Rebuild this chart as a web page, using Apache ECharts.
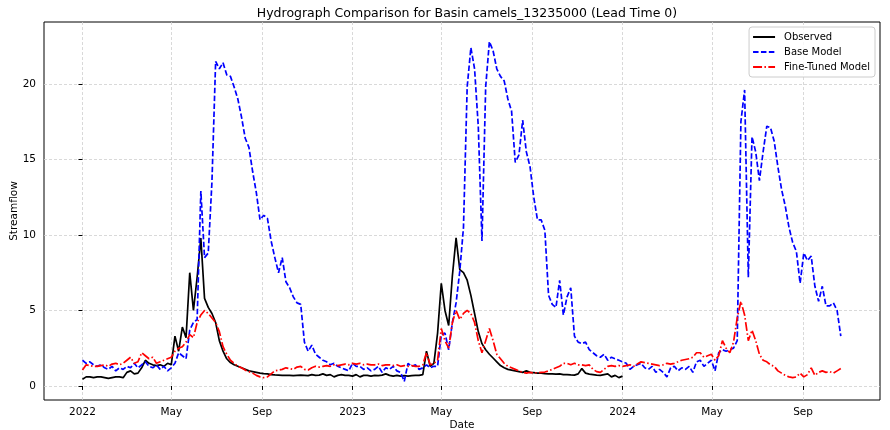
<!DOCTYPE html>
<html>
<head>
<meta charset="utf-8">
<script src="https://cdn.jsdelivr.net/npm/echarts@6/dist/echarts.min.js"></script>
<style>
  html, body { margin: 0; padding: 0; background: #fff; }
  #chart { width: 890px; height: 430px; }
</style>
</head>
<body>
<div id="chart"></div>
<script>
// samples every 5 days starting 2022-01-01
const startDate = Date.UTC(2022, 0, 1);
const stepDays = 5;
const DAY = 86400000;

const observed = [
  0.45, 0.6, 0.6, 0.55, 0.6, 0.6, 0.55, 0.5, 0.55, 0.6,
  0.6, 0.55, 0.9, 1.0, 0.8, 0.85, 1.2, 1.7, 1.5, 1.4,
  1.35, 1.4, 1.3, 1.5, 1.4, 3.3, 2.3, 3.9, 3.2, 7.5,
  5.0, 7.2, 9.8, 5.8, 5.2, 4.8, 4.2, 3.0, 2.3, 1.8,
  1.55, 1.4, 1.3, 1.2, 1.1, 1.0, 0.95, 0.9, 0.85, 0.82,
  0.8, 0.75, 0.73, 0.72, 0.7, 0.7, 0.7, 0.68, 0.7, 0.72,
  0.7, 0.68, 0.75, 0.7, 0.72, 0.8, 0.7, 0.75, 0.6, 0.7,
  0.75, 0.7, 0.7, 0.65, 0.75, 0.6, 0.7, 0.7, 0.65, 0.7,
  0.68, 0.72, 0.8, 0.7, 0.65, 0.7, 0.65, 0.68, 0.65, 0.68,
  0.7, 0.7, 0.75, 2.3, 1.3, 1.5, 3.5, 6.8, 5.0, 4.0,
  7.3, 9.8, 7.7, 7.5, 7.0, 6.0, 4.8, 3.6, 2.8, 2.4,
  2.1, 1.85, 1.6, 1.35, 1.2, 1.1, 1.05, 1.0, 0.95, 0.9,
  1.0, 0.9, 0.88, 0.85, 0.85, 0.82, 0.8, 0.8, 0.78, 0.8,
  0.75, 0.75, 0.73, 0.72, 0.8, 1.15, 0.85, 0.78, 0.75, 0.72,
  0.7, 0.75, 0.8, 0.6, 0.7, 0.55, 0.65
];

const baseModel = [
  1.7, 1.5, 1.6, 1.4, 1.3, 1.4, 1.2, 1.1, 1.3, 1.0,
  1.2, 1.1, 1.3, 1.2, 1.5, 1.2, 1.4, 1.6, 1.3, 1.2,
  1.4, 1.1, 1.3, 1.0, 1.2, 1.5, 2.2, 2.0, 1.8, 3.7,
  4.2, 4.4, 12.9, 8.5, 8.8, 13.5, 21.5, 21.0, 21.4, 20.6,
  20.5, 19.8, 19.0, 17.8, 16.4, 15.8, 14.2, 12.8, 11.0, 11.3,
  11.1, 9.6, 8.5, 7.5, 8.5, 6.9, 6.5, 5.9, 5.5, 5.4,
  2.9, 2.3, 2.7, 2.1, 1.9, 1.7, 1.6, 1.4, 1.5, 1.3,
  1.2, 1.1, 1.0, 1.5, 1.3, 1.3, 1.1, 1.2, 1.0, 1.1,
  1.3, 0.9, 1.2, 1.1, 1.3, 1.0, 0.9, 0.3, 1.5, 1.3,
  1.4, 1.1, 1.2, 1.4, 1.2, 1.3, 1.3, 3.4, 3.5, 2.4,
  4.2, 5.5, 7.6, 10.5, 19.8, 22.4, 21.0, 17.2, 9.6, 19.8,
  22.8, 22.2, 21.0, 20.5, 20.2, 19.0, 18.2, 14.8, 15.3, 17.6,
  15.5, 14.5, 12.5, 11.0, 11.0, 10.3, 6.0, 5.4, 5.2, 7.0,
  4.7, 5.9, 6.5, 3.3, 2.9, 2.8, 2.9, 2.4, 2.2, 2.0,
  1.9, 2.1, 1.7, 1.9, 1.8, 1.7, 1.6, 1.5, 1.1, 1.3,
  1.4, 1.5, 1.2, 1.1, 1.3, 0.9, 1.1, 0.9, 0.6, 1.2,
  1.3, 1.0, 1.2, 1.1, 1.3, 0.9, 1.6, 1.7, 1.3, 1.5,
  1.7, 1.0, 2.2, 2.4, 2.3, 2.4, 2.5, 3.0, 17.5, 19.6,
  7.2, 16.5, 15.5, 13.6, 15.5, 17.2, 17.1, 16.2, 14.5, 13.0,
  11.9, 10.5, 9.5, 8.9, 6.8, 8.8, 8.3, 8.6, 6.6, 5.6,
  6.6, 5.3, 5.3, 5.5, 5.0, 3.3
];

const fineTuned = [
  1.05, 1.4, 1.35, 1.3, 1.3, 1.35, 1.4, 1.3, 1.45, 1.5,
  1.4, 1.5, 1.7, 1.9, 1.5, 1.6, 2.2, 2.0, 1.8, 1.9,
  1.5, 1.6, 1.7, 1.8, 1.9, 2.3, 2.5, 2.6, 2.9, 3.4,
  3.2, 4.2, 4.7, 5.0, 4.8, 4.5, 4.2, 3.6, 2.6, 2.1,
  1.7, 1.5, 1.3, 1.2, 1.05, 0.95, 0.85, 0.7, 0.6, 0.55,
  0.6, 0.8, 1.0, 1.05, 1.1, 1.2, 1.15, 1.1, 1.25, 1.3,
  1.1, 1.05, 1.2, 1.3, 1.25, 1.3, 1.35, 1.3, 1.4, 1.35,
  1.4, 1.45, 1.4, 1.5, 1.45, 1.5, 1.4, 1.45, 1.4, 1.4,
  1.45, 1.35, 1.4, 1.4, 1.35, 1.4, 1.3, 1.35, 1.3, 1.35,
  1.3, 1.3, 1.4, 2.2, 1.4, 1.5, 1.7, 3.8, 3.0, 2.5,
  4.2, 5.0, 4.4, 4.8, 5.0, 4.8, 4.2, 3.0, 2.2, 3.0,
  3.8, 3.0, 2.1, 1.8, 1.5, 1.3, 1.2, 1.1, 1.0, 0.9,
  0.85, 0.9, 0.85, 0.88, 0.9, 0.92, 1.0, 1.1, 1.2, 1.3,
  1.5, 1.5, 1.4, 1.5, 1.4, 1.4, 1.35, 1.4, 1.1, 0.95,
  0.9, 1.1, 1.3, 1.35, 1.3, 1.35, 1.3, 1.35, 1.4, 1.3,
  1.45, 1.6, 1.55, 1.5, 1.45, 1.4, 1.35, 1.4, 1.5, 1.45,
  1.5, 1.6, 1.7, 1.75, 1.8, 1.9, 2.2, 2.2, 1.9, 2.0,
  2.1, 1.7, 2.0, 3.0, 2.5, 2.2, 2.9, 4.5, 5.6, 4.7,
  3.0, 3.7, 3.0, 2.1, 1.7, 1.6, 1.4, 1.3, 1.0, 0.85,
  0.7, 0.6, 0.55, 0.6, 0.85, 0.6, 0.75, 1.2, 0.7, 0.9,
  1.0, 0.9, 0.95, 0.85, 1.0, 1.15
];

const tickDates = [
  [2022, 0], [2022, 4], [2022, 8], [2023, 0], [2023, 4],
  [2023, 8], [2024, 0], [2024, 4], [2024, 8]
];
const monthNames = ['Jan', 'Feb', 'Mar', 'Apr', 'May', 'Jun', 'Jul', 'Aug', 'Sep', 'Oct', 'Nov', 'Dec'];
const yTicks = [0, 5, 10, 15, 20];

// x values are days since 2022-01-01
const toPairs = (vals) => vals.map((v, i) => [i * stepDays, v]);
const xTicks = tickDates.map(d => (Date.UTC(d[0], d[1], 1) - startDate) / DAY);

const font = 'DejaVu Sans';
const chart = echarts.init(document.getElementById('chart'), null, { renderer: 'canvas' });

const option = {
  animation: false,
  backgroundColor: '#fff',
  title: {
    text: 'Hydrograph Comparison for Basin camels_13235000 (Lead Time 0)',
    left: 462,
    textAlign: 'center',
    top: 2,
    textStyle: { fontFamily: font, fontSize: 12.5, fontWeight: 'normal', color: '#000' }
  },
  grid: {
    left: 44, right: 10, top: 22, bottom: 30,
    outerBoundsMode: 'none',
    containLabel: false,
    show: true, borderColor: '#000', borderWidth: 1
  },
  legend: {
    orient: 'vertical',
    right: 15,
    top: 27,
    padding: [4, 5, 4, 3],
    itemGap: 3,
    itemWidth: 22,
    itemHeight: 12,
    backgroundColor: 'rgba(255,255,255,0.8)',
    borderColor: '#ccc',
    borderWidth: 1,
    borderRadius: 3,
    itemStyle: { opacity: 0 },
    textStyle: { fontFamily: font, fontSize: 10, lineHeight: 12, color: '#000', padding: [0, 0, 0, 4] },
    data: ['Observed', 'Base Model', 'Fine-Tuned Model']
  },
  xAxis: {
    type: 'value',
    min: -52,
    max: 1078,
    name: 'Date',
    nameLocation: 'middle',
    nameGap: 20,
    nameMoveOverlap: false,
    nameTextStyle: { fontFamily: font, fontSize: 10.5, color: '#000' },
    axisLine: { show: false },
    axisTick: { show: true, length: 4, lineStyle: { color: '#000' }, customValues: xTicks },
    axisLabel: {
      customValues: xTicks,
      fontFamily: font, fontSize: 10.5, color: '#000', margin: 7,
      formatter: (v) => {
        const d = new Date(startDate + v * DAY);
        return d.getUTCMonth() === 0 ? String(d.getUTCFullYear()) : monthNames[d.getUTCMonth()];
      }
    },
    splitLine: { show: true, lineStyle: { color: '#cfcfcf', type: [3, 2], width: 0.8 } }
  },
  yAxis: {
    type: 'value',
    min: -0.93,
    max: 24.1,
    name: 'Streamflow',
    nameLocation: 'middle',
    nameGap: 24,
    nameMoveOverlap: false,
    nameTextStyle: { fontFamily: font, fontSize: 10.5, color: '#000' },
    axisLine: { show: false },
    axisTick: { show: true, length: 4, lineStyle: { color: '#000' }, customValues: yTicks },
    axisLabel: { customValues: yTicks, fontFamily: font, fontSize: 10.5, color: '#000', margin: 8 },
    splitLine: { show: true, lineStyle: { color: '#cfcfcf', type: [3, 2], width: 0.8 } }
  },
  series: [
    {
      name: 'Observed',
      type: 'line',
      data: toPairs(observed),
      symbol: 'none',
      lineStyle: { color: '#000', width: 1.7 },
      itemStyle: { color: '#000' },
      z: 3
    },
    {
      name: 'Base Model',
      type: 'line',
      data: toPairs(baseModel),
      symbol: 'none',
      lineStyle: { color: '#0000ff', width: 1.7, type: [5.5, 2.4] },
      itemStyle: { color: '#0000ff' },
      z: 4
    },
    {
      name: 'Fine-Tuned Model',
      type: 'line',
      data: toPairs(fineTuned),
      symbol: 'none',
      lineStyle: { color: '#ff0000', width: 1.7, type: [9, 2.4, 1.5, 2.4] },
      itemStyle: { color: '#ff0000' },
      z: 5
    }
  ]
};

chart.setOption(option);
window.addEventListener('resize', chart.resize);
</script>
</body>
</html>
